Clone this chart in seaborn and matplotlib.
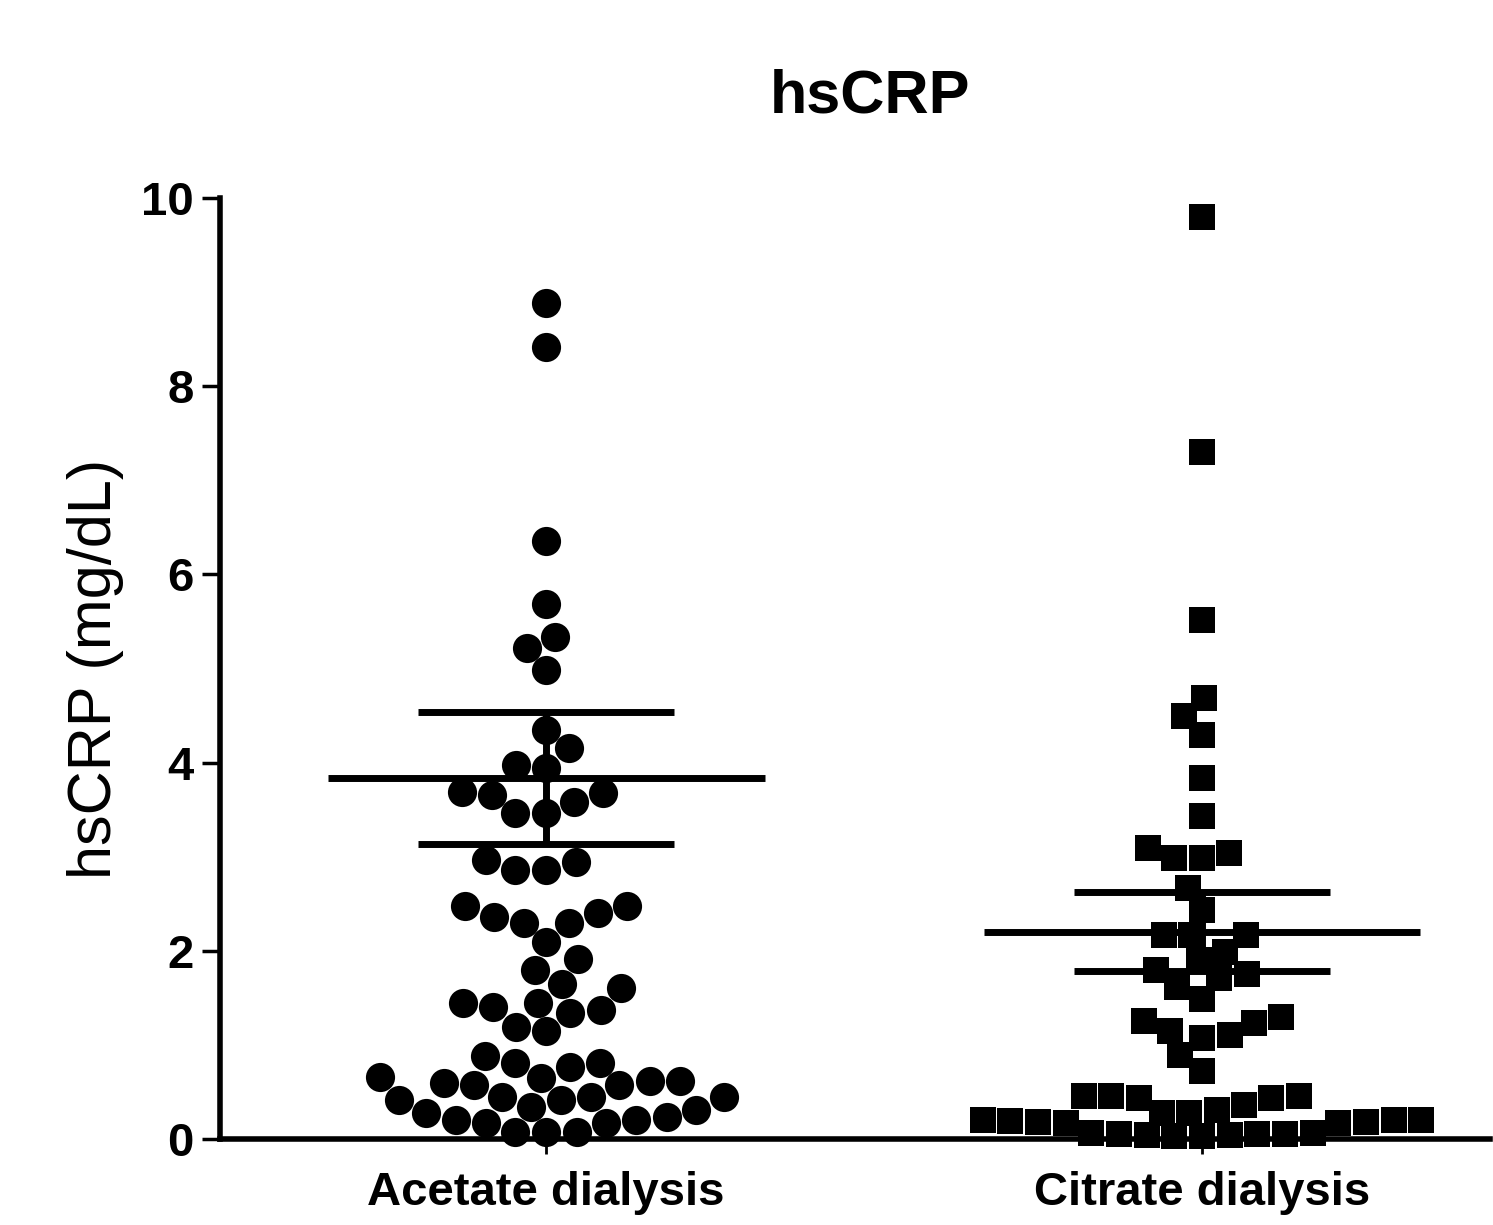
import matplotlib.pyplot as plt
import pandas as pd
import seaborn as sns

# values (mg/dL)
groups = ['Acetate dialysis', 'Citrate dialysis']
acetate = [8.88, 8.42, 6.36, 5.68, 5.33, 5.22, 4.98,
           4.35, 4.15, 3.97, 3.94, 3.66, 3.58, 3.46, 3.46, 3.68, 3.69,
           2.94, 2.86, 2.86, 2.96, 2.48, 2.36, 2.30, 2.30, 2.40, 2.48,
           2.09, 1.91, 1.80, 1.65, 1.60, 1.45, 1.40, 1.34, 1.37, 1.45, 1.15, 1.19,
           0.81, 0.77, 0.65, 0.81, 0.88,
           0.57, 0.45, 0.60, 0.41, 0.57, 0.41, 0.62, 0.45, 0.62, 0.45, 0.66,
           0.34, 0.28, 0.20, 0.17, 0.07, 0.07, 0.07, 0.17, 0.20, 0.23, 0.31]
citrate = [9.80, 7.30, 5.52, 4.69, 4.50, 4.29, 3.84, 3.43,
           3.04, 2.99, 2.99, 3.09, 2.67, 2.43, 2.17, 2.17, 2.17,
           1.99, 1.80, 1.71, 1.62, 1.75, 1.90, 1.49, 1.25, 1.15, 1.07, 1.10,
           1.23, 0.89, 1.30, 0.72,
           0.44, 0.36, 0.28, 0.46, 0.46, 0.46, 0.28, 0.31, 0.44,
           0.20, 0.18, 0.20, 0.17, 0.19, 0.18, 0.20, 0.17,
           0.05, 0.04, 0.06, 0.03, 0.05, 0.04, 0.06, 0.03, 0.05]
means = [3.84, 2.20]
sems = [0.70, 0.42]
markers = ['o', 's']

sns.set_style('ticks')
plt.rcParams['font.family'] = ['Liberation Sans', 'DejaVu Sans']
for key in ['text.color', 'axes.labelcolor', 'xtick.color', 'ytick.color', 'axes.edgecolor']:
    plt.rcParams[key] = 'black'

df = pd.DataFrame({
    'group': [groups[0]] * len(acetate) + [groups[1]] * len(citrate),
    'value': acetate + citrate,
})

fig = plt.figure(figsize=(14.93, 12.25), dpi=100)
ax = fig.add_axes([0.1474, 0.0702, 0.8506, 0.7682])

for grp, mk, sz in zip(groups, markers, [21, 19]):
    sns.swarmplot(data=df[df['group'] == grp], x='group', y='value', order=groups,
                  marker=mk, size=sz, color='black', linewidth=0, ax=ax)

# mean +/- SEM
for i, (m, s) in enumerate(zip(means, sems)):
    ax.hlines(m, i - 0.333, i + 0.333, color='black', lw=5, zorder=4)
    ax.hlines([m - s, m + s], i - 0.195, i + 0.195, color='black', lw=5, zorder=4)
    ax.vlines(i, m - s, m + s, color='black', lw=5, zorder=4)

for c in ax.collections:
    c.set_clip_on(False)

ax.set_ylim(0, 10)
ax.set_xlim(-0.497, 1.439)
ax.set_yticks([0, 2, 4, 6, 8, 10])
ax.spines['top'].set_visible(False)
ax.spines['right'].set_visible(False)
ax.spines['left'].set_linewidth(4)
ax.spines['bottom'].set_linewidth(4)
ax.tick_params(axis='y', length=13, width=2.5, labelsize=34, pad=6)
ax.tick_params(axis='x', length=11, width=2, labelsize=34, pad=12)
plt.setp(ax.get_yticklabels(), fontweight='bold')
plt.setp(ax.get_xticklabels(), fontweight='bold')
ax.set_xlabel('')
ax.set_ylabel('hsCRP (mg/dL)', fontsize=44, labelpad=12)
fig.text(0.583, 0.9078, 'hsCRP', fontsize=44, fontweight='bold',
         ha='center', va='baseline')

fig.savefig('out.png', dpi=100)
